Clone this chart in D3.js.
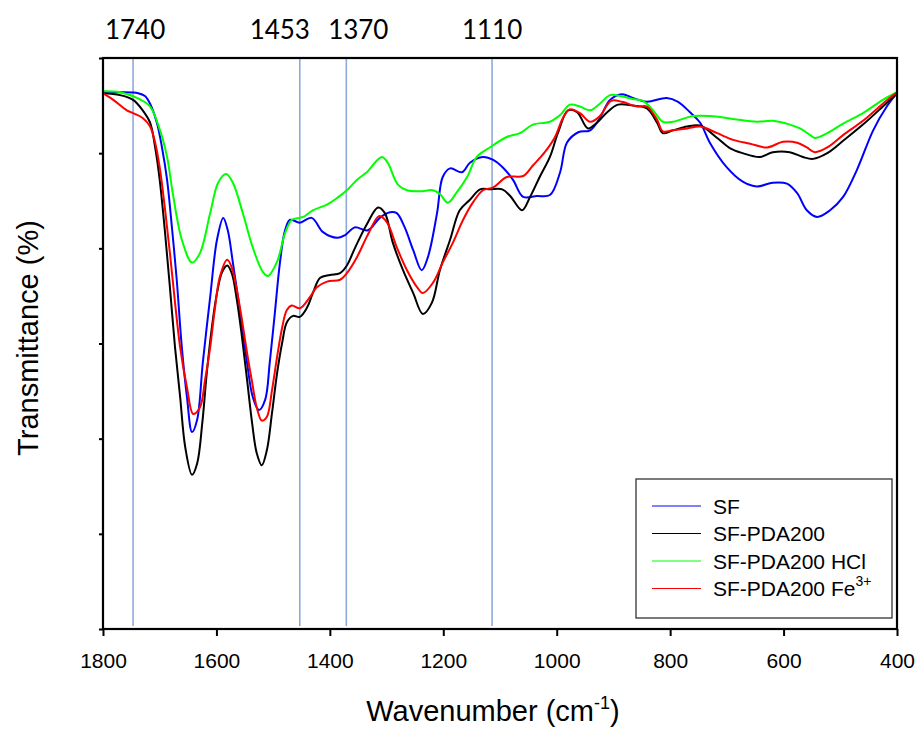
<!DOCTYPE html>
<html>
<head>
<meta charset="utf-8">
<script src="https://cdn.jsdelivr.net/npm/d3@7"></script>
<style>
  body { margin: 0; background: #fff; }
  text { font-family: "Liberation Sans", Arial, sans-serif; fill: #000; }
</style>
</head>
<body>
<div id="chart"></div>
<script>
// FTIR spectra, wavenumber (cm-1) vs transmittance (arbitrary units, no tick labels)
var xTicks = [1800, 1600, 1400, 1200, 1000, 800, 600, 400];
var yTicks = [0, 10, 20, 30, 40, 50, 60];
var bandPositions = [1747, 1453, 1371, 1114];
var bandLabels = ["1740", "1453", "1370", "1110"];
var seriesNames = ["SF", "SF-PDA200", "SF-PDA200 HCl", "SF-PDA200 Fe"];

var sf = [
  [1800, 56.4], [1770, 56.4], [1738, 56.3], [1726, 56.0], [1717, 55.2], [1705, 53.2],
  [1696, 50.6], [1687, 47.2], [1678, 41.9], [1670, 36.7], [1661, 29.6], [1652, 24.4],
  [1643, 20.7], [1634, 22.0], [1624, 28.0], [1611, 34.9], [1599, 40.9], [1588, 43.2],
  [1580, 41.9], [1571, 38.5], [1558, 33.2], [1546, 28.0], [1536, 24.4], [1525, 23.0],
  [1514, 24.1], [1506, 28.0], [1497, 33.2], [1488, 38.5], [1479, 41.9], [1470, 43.0],
  [1453, 42.7], [1432, 43.2], [1412, 41.7], [1387, 41.1], [1373, 41.4], [1356, 42.2],
  [1333, 41.9], [1312, 43.2], [1294, 43.8], [1282, 43.7], [1268, 42.2], [1253, 39.8],
  [1238, 37.7], [1227, 39.1], [1211, 43.7], [1201, 47.5], [1188, 48.4], [1167, 48.0],
  [1153, 49.0], [1130, 49.6], [1112, 49.3], [1095, 48.5], [1077, 47.2], [1059, 45.4],
  [1035, 45.5], [1012, 45.6], [994, 48.0], [982, 51.1], [962, 52.2], [941, 52.4],
  [924, 53.7], [906, 55.6], [885, 56.2], [866, 55.8], [841, 55.4], [806, 55.8],
  [786, 55.4], [765, 54.3], [747, 53.2], [730, 51.1], [700, 48.5], [672, 47.0],
  [647, 46.5], [619, 46.9], [594, 46.8], [576, 45.8], [559, 44.0], [541, 43.3],
  [518, 44.0], [495, 45.4], [471, 48.2], [442, 52.4], [418, 54.9], [400, 56.3]
];

var sfPda = [
  [1800, 56.3], [1770, 56.1], [1747, 55.6], [1730, 54.5], [1717, 53.2], [1708, 50.6],
  [1700, 47.2], [1691, 41.9], [1682, 35.9], [1673, 29.6], [1664, 24.4], [1655, 19.1],
  [1643, 16.2], [1634, 17.4], [1625, 21.6], [1617, 26.9], [1608, 31.7], [1599, 35.3],
  [1590, 37.5], [1581, 38.2], [1573, 37.4], [1564, 34.6], [1555, 30.7], [1546, 26.2],
  [1537, 21.6], [1529, 18.5], [1520, 17.2], [1511, 18.8], [1502, 22.7], [1493, 26.9],
  [1484, 30.1], [1476, 32.2], [1465, 32.9], [1453, 32.8], [1440, 33.8], [1430, 35.3],
  [1417, 36.9], [1400, 37.2], [1382, 37.4], [1370, 38.2], [1356, 40.0], [1335, 42.5],
  [1315, 44.3], [1303, 43.7], [1289, 40.6], [1271, 37.7], [1253, 35.3], [1236, 33.1],
  [1220, 34.3], [1206, 37.7], [1188, 40.9], [1171, 44.0], [1153, 45.1], [1135, 46.2],
  [1118, 46.2], [1096, 46.2], [1082, 45.5], [1061, 44.0], [1047, 45.4], [1030, 47.5],
  [1012, 49.6], [998, 52.1], [980, 54.5], [964, 54.3], [945, 52.6], [929, 53.2],
  [911, 54.3], [892, 55.1], [866, 55.0], [841, 54.7], [823, 53.2], [813, 52.1],
  [795, 52.4], [770, 52.8], [747, 52.9], [717, 51.6], [694, 50.5], [672, 50.0],
  [642, 49.6], [619, 50.1], [589, 50.1], [566, 49.6], [548, 49.4], [523, 50.0],
  [495, 51.3], [460, 53.0], [425, 54.9], [400, 56.3]
];

var sfPdaHcl = [
  [1800, 56.5], [1770, 56.4], [1740, 55.8], [1717, 54.9], [1700, 52.5], [1687, 49.6],
  [1677, 45.8], [1661, 40.9], [1643, 38.5], [1629, 39.5], [1611, 43.7], [1597, 46.9],
  [1583, 47.8], [1571, 46.9], [1553, 43.6], [1536, 40.1], [1518, 37.5], [1509, 37.1],
  [1493, 38.6], [1479, 41.6], [1467, 43.0], [1454, 43.2], [1447, 43.3], [1430, 44.0],
  [1405, 44.6], [1387, 45.3], [1370, 46.1], [1352, 47.2], [1333, 48.1], [1319, 49.1],
  [1308, 49.6], [1298, 49.0], [1280, 46.7], [1264, 46.1], [1241, 46.0], [1218, 46.1],
  [1206, 45.7], [1192, 44.8], [1176, 45.9], [1158, 47.5], [1141, 49.6], [1118, 50.6],
  [1088, 51.7], [1065, 52.1], [1042, 53.0], [1012, 53.3], [994, 54.0], [977, 55.1],
  [959, 54.9], [941, 54.5], [924, 55.2], [906, 56.1], [888, 56.0], [866, 55.7],
  [848, 55.5], [830, 54.5], [813, 53.3], [795, 53.3], [783, 53.5], [760, 53.9],
  [730, 53.9], [689, 53.6], [647, 53.3], [619, 53.4], [589, 53.0], [571, 52.6],
  [553, 51.9], [545, 51.6], [523, 52.1], [495, 53.1], [460, 54.2], [425, 55.6],
  [400, 56.4]
];

var sfPdaFe = [
  [1800, 56.3], [1782, 55.6], [1758, 54.5], [1747, 54.2], [1730, 53.7], [1717, 52.8],
  [1708, 51.1], [1700, 48.5], [1691, 44.3], [1682, 39.5], [1673, 34.3], [1664, 29.6],
  [1652, 25.4], [1641, 22.6], [1629, 23.3], [1620, 26.2], [1611, 29.6], [1603, 33.5],
  [1594, 37.0], [1581, 38.8], [1573, 38.0], [1564, 35.6], [1555, 32.5], [1546, 29.0],
  [1537, 25.9], [1529, 23.3], [1520, 21.9], [1511, 22.3], [1502, 25.1], [1493, 28.6],
  [1484, 31.7], [1476, 33.5], [1467, 34.0], [1453, 33.7], [1435, 34.9], [1423, 35.9],
  [1405, 36.5], [1382, 36.7], [1370, 37.4], [1352, 39.1], [1335, 41.2], [1317, 43.2],
  [1312, 43.4], [1299, 42.7], [1282, 40.1], [1264, 37.7], [1246, 35.9], [1236, 35.3],
  [1218, 36.4], [1201, 38.5], [1183, 40.6], [1165, 43.0], [1148, 44.8], [1130, 46.1],
  [1112, 46.4], [1088, 47.5], [1059, 47.6], [1042, 48.7], [1021, 50.1], [1003, 51.7],
  [989, 53.7], [977, 54.6], [959, 54.2], [941, 53.3], [924, 53.9], [904, 55.5],
  [885, 55.4], [858, 54.9], [841, 54.9], [823, 53.5], [813, 52.3], [795, 52.4],
  [770, 52.6], [747, 52.8], [717, 52.1], [689, 51.4], [659, 51.0], [629, 50.6],
  [601, 51.2], [576, 51.1], [559, 50.6], [545, 50.1], [523, 50.6], [495, 51.9],
  [460, 53.4], [425, 55.2], [400, 56.4]
];

var seriesData = [sf, sfPda, sfPdaHcl, sfPdaFe];
var seriesColors = ["#0000ff", "#000000", "#00ff00", "#ff0000"];

var svgWidth = 917;
var svgHeight = 729;
var margin = { top: 58, right: 20, bottom: 100, left: 103 };
var width = svgWidth - margin.left - margin.right;
var height = svgHeight - margin.top - margin.bottom;

var svg = d3.select("#chart")
  .append("svg")
  .attr("width", svgWidth)
  .attr("height", svgHeight);

var chartGroup = svg.append("g")
  .attr("transform", `translate(${margin.left}, ${margin.top})`);

var x = d3.scaleLinear().domain([1800, 400]).range([0, width]);
var y = d3.scaleLinear().domain([0, 60]).range([height, 0]);

// band marker lines
chartGroup.selectAll(".band")
  .data(bandPositions)
  .enter()
  .append("line")
  .attr("class", "band")
  .attr("x1", d => x(d))
  .attr("x2", d => x(d))
  .attr("y1", 0)
  .attr("y2", height - 3)
  .attr("stroke", "#8eaadb")
  .attr("stroke-width", 1.6);

// label shifts so the close labels don't overlap
var labelShift = [2, -20, 12, 0];
svg.selectAll(".bandLabel")
  .data(bandLabels)
  .enter()
  .append("text")
  .attr("class", "bandLabel")
  .attr("x", (d, i) => margin.left + x(bandPositions[i]) + labelShift[i])
  .attr("y", 39)
  .attr("text-anchor", "middle")
  .style("font-family", "Lato, 'Open Sans', sans-serif")
  .style("font-size", "26px")
  .text(d => d);

// spectra
var line = d3.line()
  .x(d => x(d[0]))
  .y(d => y(d[1]))
  .curve(d3.curveCatmullRom.alpha(0.5));

chartGroup.selectAll(".spectrum")
  .data(seriesData)
  .enter()
  .append("path")
  .attr("class", "spectrum")
  .attr("d", d => line(d))
  .attr("fill", "none")
  .attr("stroke", (d, i) => seriesColors[i])
  .attr("stroke-width", 2);

// axes
var bottomAxis = d3.axisBottom(x).tickValues(xTicks).tickSize(7).tickPadding(17).tickFormat(d3.format("d"));
var leftAxis = d3.axisLeft(y).tickValues(yTicks).tickSize(4).tickFormat("");

var xAxisG = chartGroup.append("g")
  .attr("transform", `translate(0, ${height})`)
  .call(bottomAxis);
var yAxisG = chartGroup.append("g").call(leftAxis);

[xAxisG, yAxisG].forEach(function(g) {
  g.select(".domain").remove();
  g.selectAll(".tick line").attr("stroke", "#000").attr("stroke-width", 2);
});
xAxisG.selectAll("text").style("font-size", "21px").attr("fill", "#000");

// frame
chartGroup.append("rect")
  .attr("width", width)
  .attr("height", height)
  .attr("fill", "none")
  .attr("stroke", "#000")
  .attr("stroke-width", 2.2);

// axis titles
var xTitle = svg.append("text")
  .attr("x", 493)
  .attr("y", 721)
  .attr("text-anchor", "middle")
  .style("font-size", "29px");
xTitle.append("tspan").text("Wavenumber (cm");
xTitle.append("tspan").attr("dy", -12).style("font-size", "18px").text("-1");
xTitle.append("tspan").attr("dy", 12).text(")");

svg.append("text")
  .attr("transform", "rotate(-90)")
  .attr("x", -338)
  .attr("y", 38)
  .attr("text-anchor", "middle")
  .style("font-size", "29px")
  .text("Transmittance (%)");

// legend
var legend = svg.append("g").attr("transform", "translate(636, 479)");
legend.append("rect")
  .attr("width", 256)
  .attr("height", 139)
  .attr("fill", "#fff")
  .attr("stroke", "#333")
  .attr("stroke-width", 1.3);

var rows = legend.selectAll(".row")
  .data(seriesNames)
  .enter()
  .append("g")
  .attr("class", "row")
  .attr("transform", (d, i) => `translate(0, ${27 + i * 27.5})`);

rows.append("line")
  .attr("x1", 16)
  .attr("x2", 65)
  .attr("stroke", (d, i) => seriesColors[i])
  .attr("stroke-width", 1.2);

var rowText = rows.append("text")
  .attr("x", 77)
  .attr("dy", "0.36em")
  .style("font-size", "21px")
  .text(d => d);

rowText.filter((d, i) => i === 3)
  .append("tspan")
  .attr("dy", -10)
  .style("font-size", "14px")
  .text("3+");
</script>
</body>
</html>
